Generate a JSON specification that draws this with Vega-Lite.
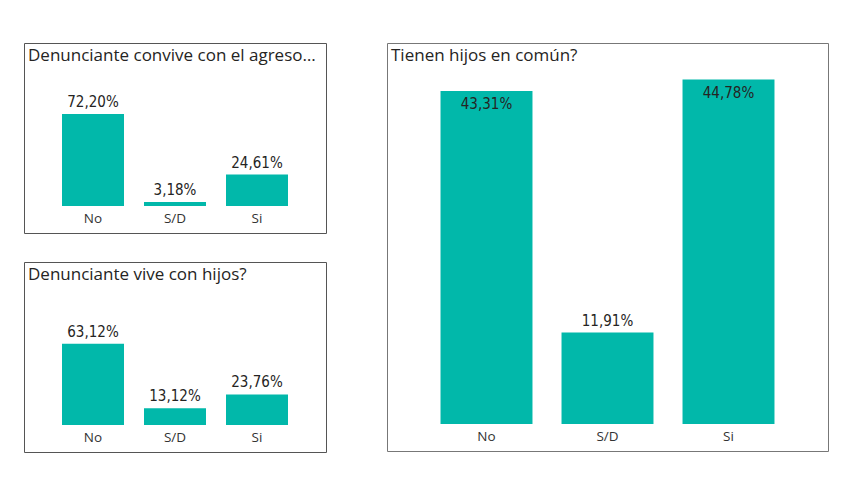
{
  "$schema": "https://vega.github.io/schema/vega-lite/v6.json",
  "padding": {"left": 23, "top": 42, "right": 0, "bottom": 0},
  "background": "white",
  "config": {
    "view": {"stroke": "#555555", "strokeWidth": 1},
    "locale": {"number": {"decimal": ",", "thousands": ".", "grouping": [3], "currency": ["", "€"]}},
    "title": {"font": "Open Sans", "fontSize": 17, "fontWeight": "normal", "color": "#252423", "anchor": "start", "frame": "group", "offset": -22, "dx": 4, "baseline": "alphabetic"},
    "axisX": {"title": null, "labelAngle": 0, "ticks": false, "domain": false, "grid": false, "offset": -27, "labelPadding": 5, "labelFont": "Open Sans", "labelFontSize": 13.5, "labelColor": "#333333"},
    "bar": {"color": "#01B8AA"},
    "text": {"font": "DejaVu Sans Condensed", "fontSize": 15, "color": "#252423", "baseline": "alphabetic"}
  },
  "datasets": {
    "convive": [{"cat": "No", "pct": 0.7220}, {"cat": "S/D", "pct": 0.0318}, {"cat": "Si", "pct": 0.2461}],
    "vive": [{"cat": "No", "pct": 0.6312}, {"cat": "S/D", "pct": 0.1312}, {"cat": "Si", "pct": 0.2376}],
    "comun": [{"cat": "No", "pct": 0.4331}, {"cat": "S/D", "pct": 0.1191}, {"cat": "Si", "pct": 0.4478}]
  },
  "hconcat": [
    {
      "vconcat": [
        {
          "width": 302, "height": 190,
          "data": {"name": "convive"},
          "title": {"text": "Denunciante convive con el agreso…"},
          "encoding": {
            "x": {"field": "cat", "type": "nominal", "scale": {"paddingInner": 0.244, "paddingOuter": 0.4635}},
            "y": {"field": "pct", "type": "quantitative", "scale": {"domain": [-0.212, 1.279], "nice": false, "zero": false}, "axis": null}
          },
          "layer": [
            {"mark": {"type": "bar"}},
            {"mark": {"type": "text", "dy": -7}, "encoding": {"text": {"field": "pct", "type": "quantitative", "format": ".2%"}}}
          ]
        },
        {
          "width": 302, "height": 190,
          "data": {"name": "vive"},
          "title": {"text": "Denunciante vive con hijos?"},
          "encoding": {
            "x": {"field": "cat", "type": "nominal", "scale": {"paddingInner": 0.244, "paddingOuter": 0.4635}},
            "y": {"field": "pct", "type": "quantitative", "scale": {"domain": [-0.21, 1.268], "nice": false, "zero": false}, "axis": null}
          },
          "layer": [
            {"mark": {"type": "bar"}},
            {"mark": {"type": "text", "dy": -7}, "encoding": {"text": {"field": "pct", "type": "quantitative", "format": ".2%"}}}
          ]
        }
      ],
      "spacing": 27
    },
    {
      "width": 441, "height": 408,
      "view": {"stroke": "#777777"},
      "data": {"name": "comun"},
      "title": {"text": "Tienen hijos en común?"},
      "encoding": {
        "x": {"field": "cat", "type": "nominal", "scale": {"paddingInner": 0.24, "paddingOuter": 0.4423}},
        "y": {"field": "pct", "type": "quantitative", "scale": {"domain": [-0.0351, 0.4954], "nice": false, "zero": false}, "axis": null}
      },
      "layer": [
        {"mark": {"type": "bar"}},
        {"transform": [{"filter": "datum.pct > 0.3"}], "mark": {"type": "text", "dy": 18}, "encoding": {"text": {"field": "pct", "type": "quantitative", "format": ".2%"}}},
        {"transform": [{"filter": "datum.pct <= 0.3"}], "mark": {"type": "text", "dy": -6}, "encoding": {"text": {"field": "pct", "type": "quantitative", "format": ".2%"}}}
      ]
    }
  ],
  "spacing": 59
}
